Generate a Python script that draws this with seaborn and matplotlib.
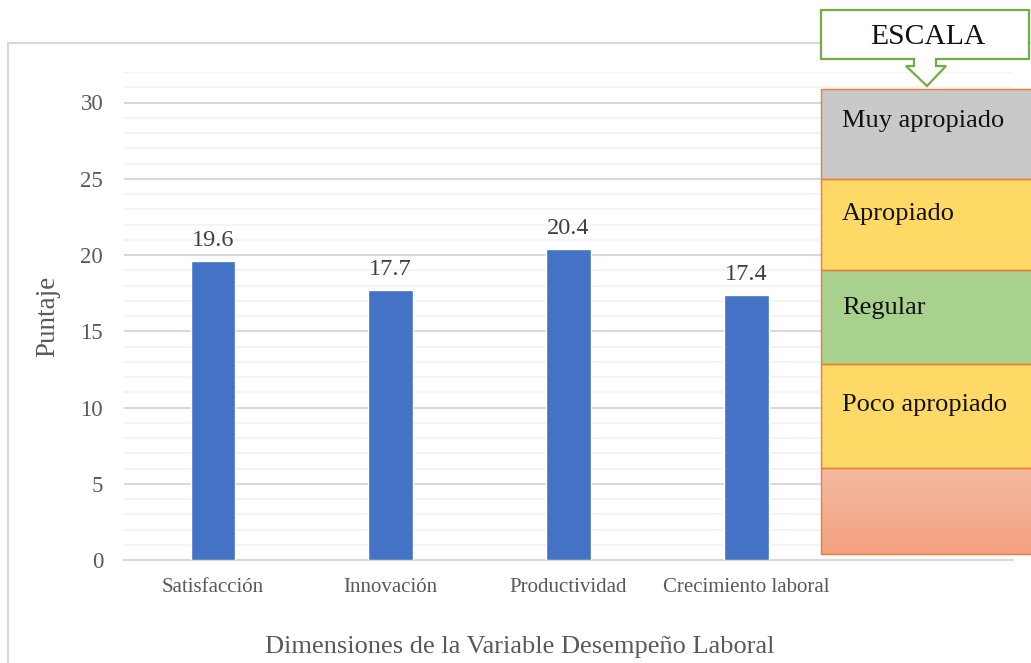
import numpy as np
import pandas as pd
import matplotlib
matplotlib.use("Agg")
import matplotlib.pyplot as plt
from matplotlib.patches import Rectangle, Polygon
import seaborn as sns

# Mean score per dimension of the "Desempeño Laboral" variable
dimensiones = ["Satisfacción", "Innovación", "Productividad", "Crecimiento laboral"]
puntajes = [19.6, 17.7, 20.4, 17.4]

# Rating scale shown beside the bars (top to bottom)
escala_niveles = ["Muy apropiado", "Apropiado", "Regular", "Poco apropiado", ""]
escala_colores = ["#C9C9C9", "#FFD966", "#A9D18E", "#FFD966", None]

sns.set_theme(style="white")
plt.rcParams["font.family"] = ["Liberation Serif", "DejaVu Serif"]

W, H = 1031, 663
fig = plt.figure(figsize=(W / 100, H / 100), dpi=100)


def fx(px):
    return px / W


def fy(py):
    return 1 - py / H


# outer chart frame
fig.patches.append(Rectangle((fx(8), fy(700)), fx(1100) - fx(8), fy(43) - fy(700),
                             transform=fig.transFigure, fill=False,
                             edgecolor="#D9D9D9", linewidth=1.5, zorder=0))

ax = fig.add_axes([fx(124), fy(560), fx(1013) - fx(124), fy(72) - fy(560)])
df = pd.DataFrame({"dimension": dimensiones, "puntaje": puntajes})
sns.barplot(data=df, x="dimension", y="puntaje", color="#4472C4",
            saturation=1, width=0.25, ax=ax, zorder=3)

ax.set_xlim(-0.5, 4.5)
ax.set_ylim(0, 32)
ax.set_yticks(np.arange(0, 31, 5))
ax.set_yticks(np.arange(0, 33, 1), minor=True)
ax.grid(axis="y", which="major", color="#D9D9D9", linewidth=1.5, zorder=0)
ax.grid(axis="y", which="minor", color="#F2F2F2", linewidth=1.2, zorder=0)
ax.set_axisbelow(True)
for side in ["top", "right", "left"]:
    ax.spines[side].set_visible(False)
ax.spines["bottom"].set_color("#D9D9D9")
ax.spines["bottom"].set_linewidth(1.5)

ax.tick_params(axis="y", which="both", length=0, pad=15, labelsize=16.5, labelcolor="#595959")
ax.tick_params(axis="x", length=0, pad=13, labelsize=15, labelcolor="#595959")

ax.set_ylabel("Puntaje", fontsize=19.5, color="#595959")
ax.yaxis.set_label_coords(-(fx(124) - fx(60)) / (fx(1013) - fx(124)), 0.5)
ax.set_xlabel("Dimensiones de la Variable Desempeño Laboral", fontsize=19,
              color="#595959")
ax.xaxis.set_label_coords((fx(520) - fx(124)) / (fx(1013) - fx(124)), -0.155)

ax.bar_label(ax.containers[0], fmt="%.1f", padding=7, fontsize=17.5, color="#404040")

# rating scale boxes
tops = [89, 179, 270, 364, 468]
bottoms = [179, 270, 364, 468, 554]
text_offsets = [32, 35, 38, 41, 0]
x0, x1 = 821, 1040
for nivel, color, t, b, off in zip(escala_niveles, escala_colores, tops, bottoms, text_offsets):
    if color is None:
        gax = fig.add_axes([fx(x0), fy(b), fx(x1) - fx(x0), fy(t) - fy(b)])
        grad = np.linspace(0, 1, 64)[:, None]
        c_top = np.array([0xF4, 0xBA, 0xA1]) / 255
        c_bot = np.array([0xF4, 0xA1, 0x80]) / 255
        img = c_top[None, None, :] * (1 - grad[..., None]) + c_bot[None, None, :] * grad[..., None]
        gax.imshow(np.repeat(img, 4, axis=1), aspect="auto", extent=(0, 1, 0, 1))
        gax.set_axis_off()
    else:
        fig.patches.append(Rectangle((fx(x0), fy(b)), fx(x1) - fx(x0), fy(t) - fy(b),
                                     transform=fig.transFigure, facecolor=color,
                                     edgecolor="none", zorder=5))
    fig.patches.append(Rectangle((fx(x0), fy(b)), fx(x1) - fx(x0), fy(t) - fy(b),
                                 transform=fig.transFigure, fill=False,
                                 edgecolor="#ED7D31", linewidth=1.0, zorder=6))
    if nivel:
        fig.text(fx(842), fy(t + off), nivel, fontsize=19, color="#111111",
                 ha="left", va="center", zorder=7)

# "ESCALA" down-arrow callout
pts = [(821, 10), (1029, 10), (1029, 59), (936, 59), (936, 66), (946, 66),
       (927, 86), (906, 66), (914, 66), (914, 59), (821, 59)]
fig.patches.append(Polygon([(fx(px), fy(py)) for px, py in pts], closed=True,
                           transform=fig.transFigure, facecolor="white",
                           edgecolor="#70AD47", linewidth=1.6, zorder=8))
fig.text(fx(928), fy(37), "ESCALA", fontsize=21.3, color="#111111",
         ha="center", va="center", zorder=9)

fig.savefig("out.png", dpi=100, facecolor="white")
